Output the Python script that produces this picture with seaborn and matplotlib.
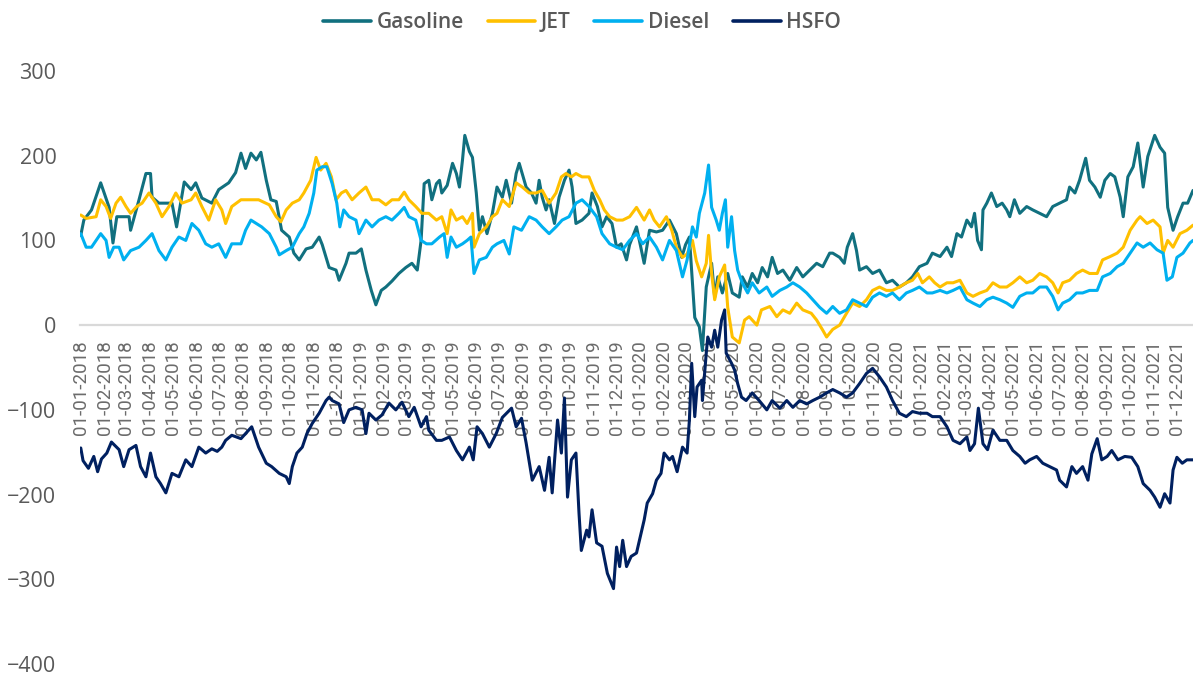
import matplotlib
matplotlib.use("Agg")
import matplotlib.pyplot as plt
import matplotlib.dates as mdates
from matplotlib.font_manager import FontProperties
import pandas as pd
import seaborn as sns

START = "2018-01-01"
series_names = ["Gasoline", "JET", "Diesel", "HSFO"]
series_colors = ["#11707f", "#ffc000", "#00b0f0", "#002060"]
y_ticks = [-400, -300, -200, -100, 0, 100, 200, 300]

# values: day offsets from 2018-01-01 and values
gasoline_days = [0, 4, 14, 26, 37, 42, 47, 63, 65, 76,
                 85, 91, 93, 102, 119, 125, 135, 144, 150, 158,
                 171, 180, 193, 202, 209, 215, 222, 229, 235, 242,
                 248, 255, 262, 272, 278, 285, 294, 302, 311, 315,
                 324, 333, 337, 346, 350, 359, 366, 372, 379, 385,
                 392, 398, 406, 415, 424, 432, 439, 444, 448, 454,
                 458, 464, 468, 471, 478, 485, 490, 494, 498, 501,
                 507, 511, 516, 520, 524, 530, 537, 543, 550, 555,
                 562, 568, 572, 581, 588, 594, 598, 602, 607, 611,
                 618, 624, 631, 637, 641, 646, 654, 663, 667, 674,
                 680, 686, 693, 699, 705, 712, 716, 725, 735, 742,
                 751, 759, 768, 777, 784, 789, 794, 801, 807, 811,
                 816, 823, 827, 831, 837, 844, 850, 859, 863, 870,
                 876, 883, 889, 896, 902, 909, 916, 925, 934, 942,
                 951, 960, 968, 977, 981, 990, 996, 1000, 1007, 1012,
                 1016, 1025, 1033, 1042, 1051, 1059, 1068, 1077, 1085, 1094,
                 1104, 1111, 1121, 1130, 1136, 1143, 1149, 1156, 1162, 1166,
                 1170, 1175, 1177, 1182, 1188, 1195, 1202, 1208, 1212, 1218,
                 1225, 1234, 1242, 1251, 1260, 1268, 1277, 1286, 1290, 1297,
                 1303, 1311, 1316, 1323, 1330, 1336, 1343, 1349, 1356, 1360,
                 1366, 1373, 1379, 1386, 1392, 1401, 1408, 1414, 1418, 1425,
                 1431, 1438, 1444, 1451]
gasoline_vals = [106, 124, 136, 168, 139, 97, 128, 128, 112, 148,
                 179, 179, 151, 144, 144, 116, 169, 160, 168, 150,
                 144, 160, 168, 180, 203, 185, 203, 195, 204, 171,
                 148, 146, 112, 104, 85, 77, 90, 92, 104, 95,
                 68, 65, 53, 73, 85, 85, 90, 65, 41, 24,
                 41, 45, 52, 61, 68, 73, 65, 100, 167, 171,
                 148, 167, 171, 156, 165, 191, 179, 163, 195, 224,
                 205, 198, 156, 112, 128, 108, 132, 163, 151, 171,
                 144, 179, 191, 163, 156, 144, 171, 151, 136, 148,
                 120, 151, 171, 183, 163, 120, 124, 132, 156, 140,
                 116, 128, 120, 92, 96, 77, 95, 116, 73, 112,
                 110, 112, 124, 108, 80, 95, 104, 9, -2, -30,
                 45, 73, 33, 57, 38, 61, 38, 33, 57, 45,
                 61, 50, 68, 57, 80, 61, 65, 53, 68, 57,
                 65, 73, 69, 85, 85, 80, 73, 92, 108, 88,
                 65, 69, 61, 65, 50, 53, 45, 50, 57, 69,
                 73, 85, 81, 92, 81, 108, 104, 124, 116, 132,
                 100, 89, 136, 144, 156, 140, 144, 136, 128, 148,
                 132, 140, 136, 132, 128, 140, 144, 148, 163, 156,
                 171, 197, 171, 163, 151, 171, 179, 175, 151, 128,
                 175, 187, 215, 163, 199, 224, 210, 203, 139, 112,
                 128, 144, 144, 159]

jet_days = [0, 7, 20, 26, 33, 39, 46, 52, 59, 65,
            73, 80, 89, 98, 106, 115, 124, 132, 144, 150,
            158, 167, 176, 184, 189, 197, 209, 222, 232, 246,
            255, 261, 268, 276, 285, 291, 300, 307, 313, 320,
            327, 333, 340, 346, 354, 363, 372, 380, 389, 398,
            406, 415, 422, 428, 437, 445, 454, 464, 471, 478,
            483, 490, 498, 504, 511, 513, 520, 529, 537, 543,
            550, 559, 568, 576, 585, 594, 602, 611, 620, 627,
            633, 640, 646, 654, 663, 670, 677, 683, 690, 699,
            707, 716, 725, 735, 742, 748, 755, 764, 771, 777,
            785, 791, 798, 803, 810, 816, 819, 823, 827, 833,
            840, 844, 850, 859, 866, 872, 882, 888, 899, 908,
            916, 925, 934, 942, 953, 960, 968, 973, 981, 990,
            999, 1007, 1016, 1025, 1033, 1042, 1051, 1059, 1068, 1077,
            1085, 1092, 1098, 1107, 1114, 1121, 1130, 1138, 1147, 1156,
            1164, 1173, 1182, 1190, 1199, 1208, 1216, 1225, 1234, 1242,
            1251, 1260, 1268, 1275, 1281, 1290, 1299, 1307, 1316, 1326,
            1333, 1343, 1352, 1360, 1369, 1378, 1382, 1391, 1399, 1408,
            1412, 1418, 1425, 1434, 1443, 1451]
jet_vals = [130, 126, 128, 148, 140, 126, 144, 151, 140, 132,
            140, 144, 156, 144, 128, 140, 156, 144, 148, 156,
            140, 124, 148, 136, 120, 140, 148, 148, 148, 142,
            128, 122, 136, 144, 148, 156, 171, 198, 183, 191,
            175, 148, 156, 159, 148, 156, 163, 148, 148, 142,
            148, 148, 157, 148, 140, 132, 132, 124, 128, 108,
            136, 124, 128, 120, 132, 92, 108, 116, 128, 132,
            148, 140, 168, 163, 156, 156, 159, 144, 156, 175,
            179, 175, 179, 175, 175, 159, 148, 136, 128, 124,
            124, 128, 139, 124, 136, 124, 116, 128, 112, 92,
            80, 84, 100, 76, 57, 73, 106, 61, 30, 57,
            71, 21, -14, -21, 6, 10, 0, 18, 22, 10,
            18, 14, 26, 18, 14, 6, -6, -14, -5, 0,
            14, 26, 22, 30, 41, 45, 41, 41, 45, 50,
            53, 61, 50, 57, 50, 45, 50, 50, 53, 38,
            34, 38, 41, 50, 45, 45, 50, 57, 50, 53,
            61, 57, 50, 38, 50, 53, 61, 65, 61, 61,
            77, 81, 85, 92, 112, 124, 128, 120, 124, 116,
            85, 100, 92, 108, 112, 118]

diesel_days = [0, 7, 14, 26, 33, 37, 43, 50, 56, 65,
               76, 85, 93, 102, 111, 119, 128, 137, 145, 154,
               163, 171, 180, 189, 197, 209, 215, 222, 229, 236,
               246, 255, 259, 268, 276, 285, 291, 298, 304, 308,
               315, 321, 328, 334, 338, 343, 350, 359, 363, 372,
               380, 389, 398, 406, 415, 422, 428, 437, 444, 451,
               458, 468, 474, 478, 483, 490, 498, 504, 509, 513,
               520, 529, 537, 543, 552, 559, 565, 575, 585, 594,
               602, 611, 620, 628, 637, 646, 654, 663, 673, 680,
               690, 699, 707, 716, 725, 733, 742, 751, 759, 768,
               777, 785, 791, 798, 803, 807, 814, 819, 823, 829,
               833, 837, 841, 844, 849, 853, 857, 863, 870, 876,
               885, 895, 902, 912, 921, 929, 938, 947, 955, 964,
               973, 977, 981, 990, 999, 1007, 1016, 1025, 1033, 1042,
               1051, 1059, 1068, 1077, 1085, 1094, 1104, 1111, 1121, 1130,
               1138, 1147, 1156, 1164, 1173, 1182, 1190, 1199, 1208, 1216,
               1225, 1234, 1242, 1251, 1260, 1268, 1275, 1281, 1290, 1299,
               1307, 1316, 1326, 1333, 1343, 1352, 1360, 1369, 1378, 1386,
               1395, 1404, 1412, 1417, 1424, 1430, 1438, 1447, 1451]
diesel_vals = [108, 92, 92, 108, 100, 80, 92, 92, 77, 88,
               92, 100, 108, 88, 77, 92, 104, 100, 120, 112,
               96, 92, 96, 80, 96, 96, 112, 124, 120, 116,
               108, 92, 83, 88, 92, 108, 116, 132, 156, 183,
               187, 187, 167, 144, 116, 136, 128, 124, 108, 124,
               116, 124, 128, 124, 132, 139, 128, 124, 100, 96,
               96, 104, 108, 80, 104, 92, 96, 100, 104, 61,
               77, 80, 92, 96, 100, 84, 116, 112, 128, 124,
               116, 108, 116, 124, 128, 144, 148, 140, 128, 108,
               96, 92, 89, 100, 108, 96, 104, 92, 77, 100,
               88, 57, 77, 116, 104, 132, 156, 189, 139, 124,
               112, 132, 148, 92, 128, 88, 65, 50, 38, 50,
               38, 45, 34, 41, 45, 50, 45, 38, 30, 21,
               14, 18, 22, 14, 18, 30, 26, 22, 33, 38,
               34, 38, 30, 38, 41, 45, 38, 38, 41, 38,
               41, 45, 30, 26, 22, 30, 33, 30, 26, 21,
               34, 38, 38, 45, 45, 34, 18, 26, 30, 38,
               38, 41, 41, 57, 61, 69, 73, 85, 97, 92,
               97, 89, 85, 53, 57, 80, 85, 97, 100]

hsfo_days = [0, 3, 10, 17, 22, 27, 34, 40, 50, 56,
             63, 72, 78, 85, 91, 98, 104, 111, 119, 128,
             137, 145, 154, 163, 171, 178, 184, 189, 197, 209,
             215, 223, 232, 242, 249, 259, 268, 272, 276, 282,
             289, 295, 302, 311, 320, 324, 328, 337, 343, 350,
             359, 367, 372, 376, 385, 393, 402, 411, 419, 428,
             435, 444, 451, 454, 464, 471, 481, 490, 498, 507,
             512, 517, 524, 533, 542, 550, 562, 568, 575, 581,
             589, 598, 605, 611, 615, 622, 627, 631, 635, 640,
             646, 650, 653, 660, 663, 667, 673, 680, 687, 695,
             699, 703, 707, 712, 718, 725, 735, 739, 746, 751,
             757, 761, 768, 772, 778, 785, 791, 794, 797, 801,
             804, 810, 811, 816, 818, 823, 827, 831, 836, 840,
             842, 849, 853, 857, 862, 868, 876, 885, 895, 902,
             912, 921, 929, 938, 947, 955, 964, 973, 981, 990,
             999, 1007, 1016, 1025, 1033, 1042, 1051, 1059, 1068, 1077,
             1085, 1094, 1104, 1111, 1121, 1130, 1138, 1147, 1156, 1160,
             1166, 1171, 1177, 1183, 1190, 1199, 1208, 1216, 1225, 1232,
             1238, 1247, 1255, 1264, 1273, 1277, 1286, 1293, 1299, 1307,
             1314, 1319, 1326, 1332, 1339, 1345, 1353, 1362, 1371, 1379,
             1386, 1395, 1401, 1408, 1414, 1421, 1425, 1430, 1437, 1443,
             1451]
hsfo_vals = [-145, -160, -169, -155, -173, -158, -151, -138, -147, -167,
             -147, -142, -167, -179, -151, -179, -187, -198, -175, -179,
             -159, -167, -144, -151, -146, -149, -144, -136, -130, -134,
             -128, -120, -144, -163, -167, -175, -179, -187, -167, -151,
             -144, -128, -116, -104, -89, -85, -89, -93, -115, -100,
             -97, -100, -128, -104, -112, -106, -92, -100, -91, -108,
             -97, -120, -108, -124, -136, -136, -132, -148, -159, -144,
             -159, -120, -128, -144, -128, -109, -98, -120, -110, -139,
             -183, -167, -195, -156, -198, -112, -151, -86, -203, -159,
             -151, -222, -266, -242, -250, -218, -257, -261, -293, -311,
             -262, -285, -254, -285, -273, -269, -230, -210, -199, -183,
             -175, -151, -159, -155, -173, -144, -151, -112, -45, -108,
             -73, -65, -89, -33, -14, -26, -6, -26, 6, 18,
             -33, -45, -53, -69, -85, -89, -80, -89, -100, -89,
             -98, -89, -97, -89, -93, -89, -85, -80, -76, -80,
             -85, -80, -69, -57, -51, -61, -73, -89, -104, -108,
             -102, -104, -104, -108, -108, -120, -136, -140, -132, -148,
             -140, -98, -140, -147, -124, -136, -136, -148, -155, -163,
             -159, -155, -163, -167, -171, -183, -191, -167, -175, -167,
             -183, -152, -134, -159, -155, -148, -159, -155, -156, -167,
             -187, -195, -203, -215, -199, -210, -171, -156, -163, -159,
             -159]

series_days = [gasoline_days, jet_days, diesel_days, hsfo_days]
series_vals = [gasoline_vals, jet_vals, diesel_vals, hsfo_vals]

frames = []
start = pd.Timestamp(START)
for name, days, vals in zip(series_names, series_days, series_vals):
    frames.append(pd.DataFrame({
        "date": start + pd.to_timedelta(days, unit="D"),
        "value": vals,
        "series": name,
    }))
df = pd.concat(frames, ignore_index=True)

sns.set_theme(style="white")
plt.rcParams["font.family"] = ["Open Sans", "DejaVu Sans"]

W, H = 1193, 677
fig = plt.figure(figsize=(W / 100, H / 100), dpi=100)
fig.patch.set_facecolor("white")
ax = fig.add_axes([80 / W, 13 / H, (W - 80) / W, 593 / H])

sns.lineplot(data=df, x="date", y="value", hue="series", hue_order=series_names,
             palette=dict(zip(series_names, series_colors)), estimator=None,
             errorbar=None, linewidth=2.2, ax=ax)

ax.set_ylim(-400, 300)
ax.set_xlim(pd.Timestamp("2017-12-31"), pd.Timestamp("2021-12-22"))
ax.set_yticks(y_ticks)
ax.set_xlabel("")
ax.set_ylabel("")
for s in ["top", "right", "left"]:
    ax.spines[s].set_visible(False)
ax.spines["bottom"].set_position(("data", 0))
ax.spines["bottom"].set_color("#d9d9d9")
ax.spines["bottom"].set_linewidth(1.6)
ax.spines["bottom"].set_zorder(1)

ax.xaxis.set_major_locator(mdates.MonthLocator())
ax.xaxis.set_major_formatter(mdates.DateFormatter("%d-%m-%Y"))
ax.tick_params(axis="y", length=0, pad=17, labelsize=15.5, labelcolor="#595959",
               labelfontfamily="Open Sans")
ax.tick_params(axis="x", length=0, pad=11, labelrotation=90, labelsize=13.5,
               labelcolor="#6b6b6b", labelfontfamily="Roboto")

handles, labels = ax.get_legend_handles_labels()
if ax.get_legend() is not None:
    ax.get_legend().remove()
leg = fig.legend(handles, labels, loc="center", bbox_to_anchor=(582 / W, 1 - 23 / H),
                 ncol=4, frameon=False, handlelength=2.3, handletextpad=0.25,
                 columnspacing=1.15, labelcolor="#595959",
                 prop=FontProperties(family="Open Sans", weight="semibold", size=15))
for ln in leg.get_lines():
    ln.set_linewidth(2.6)

fig.savefig("out.png", dpi=100, facecolor="white")
